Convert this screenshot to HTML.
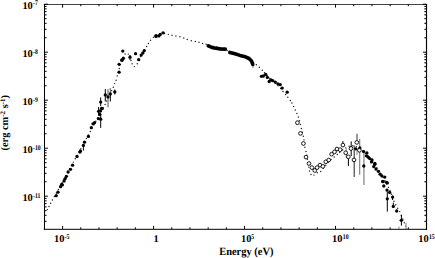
<!DOCTYPE html><html><head><meta charset="utf-8"><style>html,body{margin:0;padding:0;background:#fff;width:435px;height:258px;overflow:hidden}svg{display:block}text{font-family:"Liberation Serif",serif;font-weight:bold;fill:#000;text-rendering:geometricPrecision}</style></head><body>
<svg width="435" height="258" viewBox="0 0 435 258">
<path d="M44.60,213.00l0.01,0M47.40,209.60l0.01,0M49.00,206.40l0.01,0M50.60,203.30l0.01,0M52.40,200.00l0.01,0M54.40,196.47l0.01,0M56.40,192.93l0.01,0M58.40,189.40l0.01,0M60.27,185.99l0.01,0M62.15,182.57l0.01,0M64.03,179.16l0.01,0M65.90,175.75l0.01,0M67.78,172.34l0.01,0M69.65,168.93l0.01,0M71.53,165.51l0.01,0M73.40,162.10l0.01,0M75.26,158.73l0.01,0M77.11,155.36l0.01,0M78.97,151.99l0.01,0M80.83,148.61l0.01,0M82.69,145.24l0.01,0M84.54,141.87l0.01,0M86.40,138.50l0.01,0M88.35,134.95l0.01,0M90.30,131.40l0.01,0M92.15,128.03l0.01,0M94.00,124.65l0.01,0M95.85,121.28l0.01,0M97.70,117.90l0.01,0M99.55,114.53l0.01,0M101.40,111.15l0.01,0M103.25,107.78l0.01,0M105.10,104.40l0.01,0M106.74,100.96l0.01,0M108.38,97.52l0.01,0M110.02,94.08l0.01,0M111.66,90.64l0.01,0M113.30,87.20l0.01,0M114.60,83.60l0.01,0M116.10,80.20l0.01,0M117.20,75.90l0.01,0M118.25,72.15l0.01,0M119.30,68.40l0.01,0M120.42,64.63l0.01,0M121.55,60.87l0.01,0M123.01,57.21l0.01,0M125.10,53.90l0.01,0M128.30,54.10l0.01,0M129.73,57.24l0.01,0M130.97,60.44l0.01,0M132.10,63.70l0.01,0M134.40,66.60l0.01,0M137.30,63.70l0.01,0M138.94,60.13l0.01,0M140.56,56.56l0.01,0M142.31,53.05l0.01,0M144.26,49.65l0.01,0M146.60,46.50l0.01,0M148.40,43.40l0.01,0M150.50,40.30l0.01,0M153.50,37.30l0.01,0M157.00,35.50l0.01,0M160.68,34.12l0.01,0M164.53,33.41l0.01,0M168.35,34.35l0.01,0M172.05,35.20l0.01,0M175.90,36.00l0.01,0M179.95,36.80l0.01,0M183.80,37.90l0.01,0M187.20,39.50l0.01,0M191.30,40.70l0.01,0M195.30,41.50l0.01,0M199.00,42.30l0.01,0M202.60,43.40l0.01,0M206.13,44.31l0.01,0M209.67,45.21l0.01,0M213.20,46.10l0.01,0M216.74,46.99l0.01,0M220.27,47.90l0.01,0M223.69,49.17l0.01,0M227.12,50.43l0.01,0M230.54,51.69l0.01,0M233.98,52.89l0.01,0M237.43,54.10l0.01,0M240.85,55.36l0.01,0M244.20,56.80l0.01,0M247.49,58.34l0.01,0M250.48,60.44l0.01,0M253.45,62.55l0.01,0M256.40,64.70l0.01,0M259.30,67.20l0.01,0M262.20,70.20l0.01,0M264.50,72.80l0.01,0M267.08,75.53l0.01,0M269.71,78.21l0.01,0M272.39,80.84l0.01,0M275.22,83.32l0.01,0M278.05,85.79l0.01,0M280.71,88.42l0.01,0M283.00,91.40l0.01,0M285.60,94.40l0.01,0M287.80,97.20l0.01,0M290.30,100.50l0.01,0M291.90,103.00l0.01,0M293.60,106.40l0.01,0M295.30,109.90l0.01,0M296.90,113.40l0.01,0M298.40,116.90l0.01,0M299.40,120.70l0.01,0M300.40,124.50l0.01,0M301.40,128.40l0.01,0M302.35,132.30l0.01,0M303.30,136.20l0.01,0M303.99,139.88l0.01,0M304.52,143.58l0.01,0M304.90,147.30l0.01,0M306.00,151.40l0.01,0M306.73,155.32l0.01,0M307.38,159.25l0.01,0M307.98,163.18l0.01,0M308.64,167.11l0.01,0M309.50,171.00l0.01,0M311.00,174.50l0.01,0M314.00,175.10l0.01,0M317.20,172.80l0.01,0M320.70,171.40l0.01,0M323.26,168.37l0.01,0M325.76,165.30l0.01,0M328.27,162.23l0.01,0M331.08,159.44l0.01,0M334.20,157.00l0.01,0M337.30,154.50l0.01,0M339.80,152.40l0.01,0M342.72,150.04l0.01,0M345.78,147.89l0.01,0M349.10,146.23l0.01,0M352.74,145.68l0.01,0M356.33,146.71l0.01,0M359.51,148.69l0.01,0M362.54,150.90l0.01,0M365.36,153.36l0.01,0M368.01,156.01l0.01,0M370.35,158.94l0.01,0M372.66,161.90l0.01,0M374.86,164.94l0.01,0M377.01,168.01l0.01,0M379.09,171.13l0.01,0M381.11,174.30l0.01,0M383.07,177.49l0.01,0M384.93,180.75l0.01,0M386.70,184.06l0.01,0M388.41,187.39l0.01,0M389.98,190.80l0.01,0M391.45,194.24l0.01,0M392.72,197.77l0.01,0M394.00,201.30l0.01,0M395.84,204.76l0.01,0M397.75,208.19l0.01,0M399.70,211.60l0.01,0M401.27,215.28l0.01,0M402.80,218.99l0.01,0M404.30,222.70l0.01,0M405.75,226.05l0.01,0" fill="none" stroke="#222" stroke-width="1.45" stroke-linecap="round"/>
<line x1="83.4" y1="146.0" x2="83.4" y2="150.5" stroke="#000" stroke-width="1.0"/>
<line x1="98.6" y1="107.0" x2="98.6" y2="115.7" stroke="#000" stroke-width="1.0"/>
<line x1="100.7" y1="114.0" x2="100.7" y2="127.9" stroke="#000" stroke-width="1.0"/>
<line x1="100.7" y1="97.4" x2="100.7" y2="106.2" stroke="#000" stroke-width="1.0"/>
<line x1="105.3" y1="89.0" x2="105.3" y2="101.5" stroke="#000" stroke-width="1.0"/>
<line x1="108.0" y1="89.3" x2="108.0" y2="107.3" stroke="#777" stroke-width="1.3"/>
<line x1="110.3" y1="88.1" x2="110.3" y2="94.0" stroke="#666" stroke-width="1.1"/>
<line x1="110.3" y1="94.0" x2="110.3" y2="101.5" stroke="#000" stroke-width="1.0"/>
<line x1="114.8" y1="89.5" x2="114.8" y2="94.5" stroke="#000" stroke-width="1.0"/>
<line x1="130.0" y1="55.0" x2="130.0" y2="60.0" stroke="#000" stroke-width="1.0"/>
<line x1="253.0" y1="64.0" x2="253.0" y2="68.0" stroke="#999" stroke-width="1.2"/>
<line x1="342.9" y1="141.1" x2="342.9" y2="147.0" stroke="#000" stroke-width="1.0"/>
<line x1="346.3" y1="148.0" x2="346.3" y2="158.0" stroke="#aaa" stroke-width="1.3"/>
<line x1="348.4" y1="158.0" x2="348.4" y2="166.0" stroke="#000" stroke-width="1.0"/>
<line x1="351.2" y1="141.4" x2="351.2" y2="156.1" stroke="#000" stroke-width="1.0"/>
<line x1="354.2" y1="145.6" x2="354.2" y2="177.1" stroke="#333" stroke-width="1.1"/>
<line x1="357.0" y1="133.8" x2="357.0" y2="141.0" stroke="#888" stroke-width="1.7"/>
<line x1="357.0" y1="148.0" x2="357.0" y2="155.0" stroke="#aaa" stroke-width="1.4"/>
<line x1="359.7" y1="139.0" x2="359.7" y2="174.8" stroke="#777" stroke-width="1.1"/>
<line x1="363.9" y1="150.0" x2="363.9" y2="185.0" stroke="#aaa" stroke-width="1.8"/>
<line x1="387.3" y1="191.3" x2="387.3" y2="211.6" stroke="#000" stroke-width="1.0"/>
<line x1="392.6" y1="195.5" x2="392.6" y2="200.0" stroke="#000" stroke-width="1.0"/>
<line x1="393.3" y1="202.6" x2="393.3" y2="208.0" stroke="#000" stroke-width="1.0"/>
<line x1="401.4" y1="215.1" x2="401.4" y2="225.6" stroke="#000" stroke-width="1.0"/>
<line x1="406.0" y1="222.7" x2="406.0" y2="229.3" stroke="#aaa" stroke-width="1.5"/>
<line x1="399.0" y1="226.5" x2="399.0" y2="229.3" stroke="#aaa" stroke-width="1.3"/>
<line x1="399.6" y1="220.3" x2="403.2" y2="220.3" stroke="#000" stroke-width="1"/>
<circle cx="56.2" cy="195.7" r="1.65" fill="#000"/>
<circle cx="58.0" cy="192.2" r="1.65" fill="#000"/>
<circle cx="60.6" cy="186.7" r="1.65" fill="#000"/>
<circle cx="61.7" cy="184.4" r="1.65" fill="#000"/>
<circle cx="62.3" cy="184.9" r="1.65" fill="#000"/>
<circle cx="64.1" cy="181.0" r="1.65" fill="#000"/>
<circle cx="65.2" cy="178.6" r="1.65" fill="#000"/>
<circle cx="66.4" cy="176.3" r="1.65" fill="#000"/>
<circle cx="68.1" cy="172.0" r="1.65" fill="#000"/>
<circle cx="70.5" cy="169.3" r="1.65" fill="#000"/>
<circle cx="72.6" cy="165.2" r="1.65" fill="#000"/>
<circle cx="77.0" cy="156.5" r="1.65" fill="#000"/>
<circle cx="79.9" cy="152.1" r="1.65" fill="#000"/>
<circle cx="80.5" cy="150.9" r="1.65" fill="#000"/>
<circle cx="83.4" cy="145.4" r="1.65" fill="#000"/>
<circle cx="84.5" cy="142.2" r="1.65" fill="#000"/>
<circle cx="88.4" cy="136.4" r="1.65" fill="#000"/>
<circle cx="91.3" cy="127.7" r="1.65" fill="#000"/>
<circle cx="93.0" cy="123.8" r="1.65" fill="#000"/>
<circle cx="94.5" cy="122.7" r="1.65" fill="#000"/>
<circle cx="98.4" cy="118.6" r="1.65" fill="#000"/>
<circle cx="100.7" cy="119.2" r="1.65" fill="#000"/>
<circle cx="99.8" cy="114.5" r="1.65" fill="#000"/>
<circle cx="98.6" cy="111.3" r="1.65" fill="#000"/>
<circle cx="100.3" cy="111.0" r="1.65" fill="#000"/>
<circle cx="102.1" cy="108.7" r="1.65" fill="#000"/>
<circle cx="101.6" cy="108.3" r="1.65" fill="#000"/>
<circle cx="100.7" cy="102.1" r="1.65" fill="#000"/>
<circle cx="105.3" cy="94.9" r="1.65" fill="#000"/>
<circle cx="108.0" cy="96.9" r="1.65" fill="#000"/>
<circle cx="110.3" cy="94.0" r="1.65" fill="#000"/>
<circle cx="114.8" cy="91.9" r="1.65" fill="#000"/>
<circle cx="119.1" cy="72.2" r="1.65" fill="#000"/>
<circle cx="119.1" cy="64.3" r="1.65" fill="#000"/>
<circle cx="121.9" cy="60.2" r="1.65" fill="#000"/>
<circle cx="122.0" cy="60.0" r="1.65" fill="#000"/>
<circle cx="123.4" cy="58.3" r="1.65" fill="#000"/>
<circle cx="122.8" cy="51.1" r="1.65" fill="#000"/>
<circle cx="130.0" cy="57.2" r="1.65" fill="#000"/>
<circle cx="135.6" cy="53.7" r="1.65" fill="#000"/>
<circle cx="138.7" cy="59.7" r="1.65" fill="#000"/>
<circle cx="141.2" cy="55.1" r="1.65" fill="#000"/>
<circle cx="142.9" cy="53.0" r="1.65" fill="#000"/>
<circle cx="144.3" cy="50.6" r="1.65" fill="#000"/>
<circle cx="156.0" cy="36.4" r="1.65" fill="#000"/>
<circle cx="156.0" cy="35.6" r="1.65" fill="#000"/>
<circle cx="158.9" cy="35.9" r="1.65" fill="#000"/>
<circle cx="160.2" cy="34.4" r="1.65" fill="#000"/>
<circle cx="163.1" cy="32.8" r="1.65" fill="#000"/>
<circle cx="261.4" cy="76.3" r="1.65" fill="#000"/>
<circle cx="263.4" cy="76.0" r="1.65" fill="#000"/>
<circle cx="265.7" cy="74.5" r="1.65" fill="#000"/>
<circle cx="267.4" cy="77.4" r="1.65" fill="#000"/>
<circle cx="269.2" cy="81.5" r="1.65" fill="#000"/>
<circle cx="270.9" cy="79.8" r="1.65" fill="#000"/>
<circle cx="272.7" cy="80.7" r="1.65" fill="#000"/>
<circle cx="275.3" cy="82.1" r="1.65" fill="#000"/>
<circle cx="277.9" cy="83.8" r="1.65" fill="#000"/>
<circle cx="280.2" cy="84.7" r="1.65" fill="#000"/>
<circle cx="282.2" cy="88.1" r="1.65" fill="#000"/>
<circle cx="287.2" cy="92.2" r="1.65" fill="#000"/>
<circle cx="355.7" cy="148.8" r="1.65" fill="#000"/>
<circle cx="359.9" cy="147.9" r="1.65" fill="#000"/>
<circle cx="363.6" cy="151.6" r="1.65" fill="#000"/>
<circle cx="366.9" cy="153.0" r="1.65" fill="#000"/>
<circle cx="366.4" cy="155.8" r="1.65" fill="#000"/>
<circle cx="368.3" cy="157.2" r="1.65" fill="#000"/>
<circle cx="369.7" cy="158.6" r="1.65" fill="#000"/>
<circle cx="372.0" cy="160.0" r="1.65" fill="#000"/>
<circle cx="371.5" cy="161.9" r="1.65" fill="#000"/>
<circle cx="374.8" cy="163.3" r="1.65" fill="#000"/>
<circle cx="374.9" cy="164.3" r="1.65" fill="#000"/>
<circle cx="373.7" cy="166.6" r="1.65" fill="#000"/>
<circle cx="376.0" cy="169.0" r="1.65" fill="#000"/>
<circle cx="378.4" cy="171.3" r="1.65" fill="#000"/>
<circle cx="380.1" cy="174.2" r="1.65" fill="#000"/>
<circle cx="381.9" cy="175.9" r="1.65" fill="#000"/>
<circle cx="384.8" cy="177.1" r="1.65" fill="#000"/>
<circle cx="383.0" cy="181.7" r="1.65" fill="#000"/>
<circle cx="386.5" cy="182.3" r="1.65" fill="#000"/>
<circle cx="363.8" cy="166.0" r="1.65" fill="#000"/>
<circle cx="382.7" cy="181.4" r="1.65" fill="#000"/>
<circle cx="387.3" cy="182.9" r="1.65" fill="#000"/>
<circle cx="383.8" cy="186.0" r="1.65" fill="#000"/>
<circle cx="387.0" cy="190.1" r="1.65" fill="#000"/>
<circle cx="389.7" cy="192.4" r="1.65" fill="#000"/>
<circle cx="392.6" cy="197.1" r="1.65" fill="#000"/>
<circle cx="387.3" cy="198.8" r="1.65" fill="#000"/>
<circle cx="393.3" cy="206.4" r="1.65" fill="#000"/>
<circle cx="396.7" cy="211.0" r="1.65" fill="#000"/>
<circle cx="401.4" cy="220.3" r="1.65" fill="#000"/>
<path d="M208.3,45.9 L213.0,47.8 L216.0,48.3 L220.0,48.9 L225.3,49.1" fill="none" stroke="#000" stroke-width="3.6" stroke-linecap="round" stroke-linejoin="round"/>
<path d="M229.8,52.4 L235.0,53.8 L240.0,55.4 L245.4,56.8 L249.0,58.5 L251.5,61.0 L252.8,64.3" fill="none" stroke="#000" stroke-width="3.6" stroke-linecap="round" stroke-linejoin="round"/>
<circle cx="297.4" cy="122.7" r="1.85" fill="#fff" stroke="#000" stroke-width="0.9"/>
<circle cx="300.5" cy="133.4" r="1.85" fill="#fff" stroke="#000" stroke-width="0.9"/>
<circle cx="303.4" cy="143.5" r="1.85" fill="#fff" stroke="#000" stroke-width="0.9"/>
<circle cx="306.0" cy="157.1" r="1.85" fill="#fff" stroke="#000" stroke-width="0.9"/>
<circle cx="309.0" cy="163.5" r="1.85" fill="#fff" stroke="#000" stroke-width="0.9"/>
<circle cx="311.9" cy="167.6" r="1.85" fill="#fff" stroke="#000" stroke-width="0.9"/>
<circle cx="314.8" cy="170.5" r="1.85" fill="#fff" stroke="#000" stroke-width="0.9"/>
<circle cx="317.1" cy="167.6" r="1.85" fill="#fff" stroke="#000" stroke-width="0.9"/>
<circle cx="320.0" cy="165.1" r="1.85" fill="#fff" stroke="#000" stroke-width="0.9"/>
<circle cx="322.9" cy="166.4" r="1.85" fill="#fff" stroke="#000" stroke-width="0.9"/>
<circle cx="325.8" cy="161.8" r="1.85" fill="#fff" stroke="#000" stroke-width="0.9"/>
<circle cx="328.7" cy="160.0" r="1.85" fill="#fff" stroke="#000" stroke-width="0.9"/>
<circle cx="331.6" cy="154.2" r="1.85" fill="#fff" stroke="#000" stroke-width="0.9"/>
<circle cx="334.5" cy="151.9" r="1.85" fill="#fff" stroke="#000" stroke-width="0.9"/>
<circle cx="337.0" cy="149.0" r="1.85" fill="#fff" stroke="#000" stroke-width="0.9"/>
<circle cx="340.1" cy="149.7" r="1.85" fill="#fff" stroke="#000" stroke-width="0.9"/>
<circle cx="342.9" cy="145.1" r="1.85" fill="#fff" stroke="#000" stroke-width="0.9"/>
<circle cx="345.7" cy="152.8" r="1.85" fill="#fff" stroke="#000" stroke-width="0.9"/>
<circle cx="351.0" cy="148.5" r="1.85" fill="#fff" stroke="#000" stroke-width="0.9"/>
<circle cx="348.3" cy="156.8" r="1.85" fill="#fff" stroke="#000" stroke-width="0.9"/>
<circle cx="354.0" cy="159.9" r="1.85" fill="#fff" stroke="#000" stroke-width="0.9"/>
<circle cx="356.8" cy="142.4" r="1.85" fill="#fff" stroke="#000" stroke-width="0.9"/>
<circle cx="359.4" cy="150.3" r="1.85" fill="#fff" stroke="#000" stroke-width="0.9"/>
<g stroke="#000" fill="none">
<line x1="43.90" y1="4.5" x2="427.00" y2="4.5" stroke="#444" stroke-width="1.15"/>
<line x1="43.90" y1="229.4" x2="427.00" y2="229.4" stroke="#333" stroke-width="1.15"/>
<line x1="44.5" y1="4" x2="44.5" y2="230" stroke-width="1.0"/>
<line x1="426.50" y1="4" x2="426.50" y2="230" stroke-width="1.15"/>
<line x1="44.40" y1="229.30" x2="44.40" y2="227.30" stroke-width="1"/>
<line x1="44.40" y1="4.20" x2="44.40" y2="6.20" stroke-width="1"/>
<line x1="62.60" y1="229.30" x2="62.60" y2="225.90" stroke-width="1"/>
<line x1="62.60" y1="4.20" x2="62.60" y2="7.60" stroke-width="1"/>
<line x1="80.79" y1="229.30" x2="80.79" y2="227.30" stroke-width="1"/>
<line x1="80.79" y1="4.20" x2="80.79" y2="6.20" stroke-width="1"/>
<line x1="98.99" y1="229.30" x2="98.99" y2="227.30" stroke-width="1"/>
<line x1="98.99" y1="4.20" x2="98.99" y2="6.20" stroke-width="1"/>
<line x1="117.18" y1="229.30" x2="117.18" y2="227.30" stroke-width="1"/>
<line x1="117.18" y1="4.20" x2="117.18" y2="6.20" stroke-width="1"/>
<line x1="135.38" y1="229.30" x2="135.38" y2="227.30" stroke-width="1"/>
<line x1="135.38" y1="4.20" x2="135.38" y2="6.20" stroke-width="1"/>
<line x1="153.57" y1="229.30" x2="153.57" y2="225.90" stroke-width="1"/>
<line x1="153.57" y1="4.20" x2="153.57" y2="7.60" stroke-width="1"/>
<line x1="171.77" y1="229.30" x2="171.77" y2="227.30" stroke-width="1"/>
<line x1="171.77" y1="4.20" x2="171.77" y2="6.20" stroke-width="1"/>
<line x1="189.96" y1="229.30" x2="189.96" y2="227.30" stroke-width="1"/>
<line x1="189.96" y1="4.20" x2="189.96" y2="6.20" stroke-width="1"/>
<line x1="208.16" y1="229.30" x2="208.16" y2="227.30" stroke-width="1"/>
<line x1="208.16" y1="4.20" x2="208.16" y2="6.20" stroke-width="1"/>
<line x1="226.35" y1="229.30" x2="226.35" y2="227.30" stroke-width="1"/>
<line x1="226.35" y1="4.20" x2="226.35" y2="6.20" stroke-width="1"/>
<line x1="244.55" y1="229.30" x2="244.55" y2="225.90" stroke-width="1"/>
<line x1="244.55" y1="4.20" x2="244.55" y2="7.60" stroke-width="1"/>
<line x1="262.74" y1="229.30" x2="262.74" y2="227.30" stroke-width="1"/>
<line x1="262.74" y1="4.20" x2="262.74" y2="6.20" stroke-width="1"/>
<line x1="280.94" y1="229.30" x2="280.94" y2="227.30" stroke-width="1"/>
<line x1="280.94" y1="4.20" x2="280.94" y2="6.20" stroke-width="1"/>
<line x1="299.13" y1="229.30" x2="299.13" y2="227.30" stroke-width="1"/>
<line x1="299.13" y1="4.20" x2="299.13" y2="6.20" stroke-width="1"/>
<line x1="317.33" y1="229.30" x2="317.33" y2="227.30" stroke-width="1"/>
<line x1="317.33" y1="4.20" x2="317.33" y2="6.20" stroke-width="1"/>
<line x1="335.52" y1="229.30" x2="335.52" y2="225.90" stroke-width="1"/>
<line x1="335.52" y1="4.20" x2="335.52" y2="7.60" stroke-width="1"/>
<line x1="353.72" y1="229.30" x2="353.72" y2="227.30" stroke-width="1"/>
<line x1="353.72" y1="4.20" x2="353.72" y2="6.20" stroke-width="1"/>
<line x1="371.91" y1="229.30" x2="371.91" y2="227.30" stroke-width="1"/>
<line x1="371.91" y1="4.20" x2="371.91" y2="6.20" stroke-width="1"/>
<line x1="390.11" y1="229.30" x2="390.11" y2="227.30" stroke-width="1"/>
<line x1="390.11" y1="4.20" x2="390.11" y2="6.20" stroke-width="1"/>
<line x1="408.30" y1="229.30" x2="408.30" y2="227.30" stroke-width="1"/>
<line x1="408.30" y1="4.20" x2="408.30" y2="6.20" stroke-width="1"/>
<line x1="426.50" y1="229.30" x2="426.50" y2="225.90" stroke-width="1"/>
<line x1="426.50" y1="4.20" x2="426.50" y2="7.60" stroke-width="1"/>
<line x1="44.40" y1="221.30" x2="46.60" y2="221.30" stroke-width="1"/>
<line x1="426.50" y1="221.30" x2="424.30" y2="221.30" stroke-width="1"/>
<line x1="44.40" y1="215.30" x2="46.60" y2="215.30" stroke-width="1"/>
<line x1="426.50" y1="215.30" x2="424.30" y2="215.30" stroke-width="1"/>
<line x1="44.40" y1="210.65" x2="46.60" y2="210.65" stroke-width="1"/>
<line x1="426.50" y1="210.65" x2="424.30" y2="210.65" stroke-width="1"/>
<line x1="44.40" y1="206.85" x2="46.60" y2="206.85" stroke-width="1"/>
<line x1="426.50" y1="206.85" x2="424.30" y2="206.85" stroke-width="1"/>
<line x1="44.40" y1="203.64" x2="46.60" y2="203.64" stroke-width="1"/>
<line x1="426.50" y1="203.64" x2="424.30" y2="203.64" stroke-width="1"/>
<line x1="44.40" y1="200.85" x2="46.60" y2="200.85" stroke-width="1"/>
<line x1="426.50" y1="200.85" x2="424.30" y2="200.85" stroke-width="1"/>
<line x1="44.40" y1="198.40" x2="46.60" y2="198.40" stroke-width="1"/>
<line x1="426.50" y1="198.40" x2="424.30" y2="198.40" stroke-width="1"/>
<line x1="44.40" y1="196.20" x2="47.90" y2="196.20" stroke-width="1"/>
<line x1="426.50" y1="196.20" x2="423.00" y2="196.20" stroke-width="1"/>
<line x1="44.40" y1="181.75" x2="46.60" y2="181.75" stroke-width="1"/>
<line x1="426.50" y1="181.75" x2="424.30" y2="181.75" stroke-width="1"/>
<line x1="44.40" y1="173.30" x2="46.60" y2="173.30" stroke-width="1"/>
<line x1="426.50" y1="173.30" x2="424.30" y2="173.30" stroke-width="1"/>
<line x1="44.40" y1="167.30" x2="46.60" y2="167.30" stroke-width="1"/>
<line x1="426.50" y1="167.30" x2="424.30" y2="167.30" stroke-width="1"/>
<line x1="44.40" y1="162.65" x2="46.60" y2="162.65" stroke-width="1"/>
<line x1="426.50" y1="162.65" x2="424.30" y2="162.65" stroke-width="1"/>
<line x1="44.40" y1="158.85" x2="46.60" y2="158.85" stroke-width="1"/>
<line x1="426.50" y1="158.85" x2="424.30" y2="158.85" stroke-width="1"/>
<line x1="44.40" y1="155.64" x2="46.60" y2="155.64" stroke-width="1"/>
<line x1="426.50" y1="155.64" x2="424.30" y2="155.64" stroke-width="1"/>
<line x1="44.40" y1="152.85" x2="46.60" y2="152.85" stroke-width="1"/>
<line x1="426.50" y1="152.85" x2="424.30" y2="152.85" stroke-width="1"/>
<line x1="44.40" y1="150.40" x2="46.60" y2="150.40" stroke-width="1"/>
<line x1="426.50" y1="150.40" x2="424.30" y2="150.40" stroke-width="1"/>
<line x1="44.40" y1="148.20" x2="47.90" y2="148.20" stroke-width="1"/>
<line x1="426.50" y1="148.20" x2="423.00" y2="148.20" stroke-width="1"/>
<line x1="44.40" y1="133.75" x2="46.60" y2="133.75" stroke-width="1"/>
<line x1="426.50" y1="133.75" x2="424.30" y2="133.75" stroke-width="1"/>
<line x1="44.40" y1="125.30" x2="46.60" y2="125.30" stroke-width="1"/>
<line x1="426.50" y1="125.30" x2="424.30" y2="125.30" stroke-width="1"/>
<line x1="44.40" y1="119.30" x2="46.60" y2="119.30" stroke-width="1"/>
<line x1="426.50" y1="119.30" x2="424.30" y2="119.30" stroke-width="1"/>
<line x1="44.40" y1="114.65" x2="46.60" y2="114.65" stroke-width="1"/>
<line x1="426.50" y1="114.65" x2="424.30" y2="114.65" stroke-width="1"/>
<line x1="44.40" y1="110.85" x2="46.60" y2="110.85" stroke-width="1"/>
<line x1="426.50" y1="110.85" x2="424.30" y2="110.85" stroke-width="1"/>
<line x1="44.40" y1="107.64" x2="46.60" y2="107.64" stroke-width="1"/>
<line x1="426.50" y1="107.64" x2="424.30" y2="107.64" stroke-width="1"/>
<line x1="44.40" y1="104.85" x2="46.60" y2="104.85" stroke-width="1"/>
<line x1="426.50" y1="104.85" x2="424.30" y2="104.85" stroke-width="1"/>
<line x1="44.40" y1="102.40" x2="46.60" y2="102.40" stroke-width="1"/>
<line x1="426.50" y1="102.40" x2="424.30" y2="102.40" stroke-width="1"/>
<line x1="44.40" y1="100.20" x2="47.90" y2="100.20" stroke-width="1"/>
<line x1="426.50" y1="100.20" x2="423.00" y2="100.20" stroke-width="1"/>
<line x1="44.40" y1="85.75" x2="46.60" y2="85.75" stroke-width="1"/>
<line x1="426.50" y1="85.75" x2="424.30" y2="85.75" stroke-width="1"/>
<line x1="44.40" y1="77.30" x2="46.60" y2="77.30" stroke-width="1"/>
<line x1="426.50" y1="77.30" x2="424.30" y2="77.30" stroke-width="1"/>
<line x1="44.40" y1="71.30" x2="46.60" y2="71.30" stroke-width="1"/>
<line x1="426.50" y1="71.30" x2="424.30" y2="71.30" stroke-width="1"/>
<line x1="44.40" y1="66.65" x2="46.60" y2="66.65" stroke-width="1"/>
<line x1="426.50" y1="66.65" x2="424.30" y2="66.65" stroke-width="1"/>
<line x1="44.40" y1="62.85" x2="46.60" y2="62.85" stroke-width="1"/>
<line x1="426.50" y1="62.85" x2="424.30" y2="62.85" stroke-width="1"/>
<line x1="44.40" y1="59.64" x2="46.60" y2="59.64" stroke-width="1"/>
<line x1="426.50" y1="59.64" x2="424.30" y2="59.64" stroke-width="1"/>
<line x1="44.40" y1="56.85" x2="46.60" y2="56.85" stroke-width="1"/>
<line x1="426.50" y1="56.85" x2="424.30" y2="56.85" stroke-width="1"/>
<line x1="44.40" y1="54.40" x2="46.60" y2="54.40" stroke-width="1"/>
<line x1="426.50" y1="54.40" x2="424.30" y2="54.40" stroke-width="1"/>
<line x1="44.40" y1="52.20" x2="47.90" y2="52.20" stroke-width="1"/>
<line x1="426.50" y1="52.20" x2="423.00" y2="52.20" stroke-width="1"/>
<line x1="44.40" y1="37.75" x2="46.60" y2="37.75" stroke-width="1"/>
<line x1="426.50" y1="37.75" x2="424.30" y2="37.75" stroke-width="1"/>
<line x1="44.40" y1="29.30" x2="46.60" y2="29.30" stroke-width="1"/>
<line x1="426.50" y1="29.30" x2="424.30" y2="29.30" stroke-width="1"/>
<line x1="44.40" y1="23.30" x2="46.60" y2="23.30" stroke-width="1"/>
<line x1="426.50" y1="23.30" x2="424.30" y2="23.30" stroke-width="1"/>
<line x1="44.40" y1="18.65" x2="46.60" y2="18.65" stroke-width="1"/>
<line x1="426.50" y1="18.65" x2="424.30" y2="18.65" stroke-width="1"/>
<line x1="44.40" y1="14.85" x2="46.60" y2="14.85" stroke-width="1"/>
<line x1="426.50" y1="14.85" x2="424.30" y2="14.85" stroke-width="1"/>
<line x1="44.40" y1="11.64" x2="46.60" y2="11.64" stroke-width="1"/>
<line x1="426.50" y1="11.64" x2="424.30" y2="11.64" stroke-width="1"/>
<line x1="44.40" y1="8.85" x2="46.60" y2="8.85" stroke-width="1"/>
<line x1="426.50" y1="8.85" x2="424.30" y2="8.85" stroke-width="1"/>
<line x1="44.40" y1="6.40" x2="46.60" y2="6.40" stroke-width="1"/>
<line x1="426.50" y1="6.40" x2="424.30" y2="6.40" stroke-width="1"/>
<line x1="44.40" y1="4.20" x2="47.90" y2="4.20" stroke-width="1"/>
<line x1="426.50" y1="4.20" x2="423.00" y2="4.20" stroke-width="1"/>
</g>
<text x="22.4" y="8.5" font-size="10.4">10</text><text transform="translate(33.00,4.70) scale(0.8,1)" font-size="7.2">-7</text>
<text x="22.4" y="56.7" font-size="10.4">10</text><text transform="translate(33.00,54.10) scale(0.8,1)" font-size="7.2">-8</text>
<text x="22.4" y="104.7" font-size="10.4">10</text><text transform="translate(33.00,102.10) scale(0.8,1)" font-size="7.2">-9</text>
<text x="22.4" y="152.7" font-size="10.4">10</text><text transform="translate(33.00,150.10) scale(0.8,1)" font-size="7.2">-10</text>
<text x="22.4" y="200.7" font-size="10.4">10</text><text transform="translate(33.00,198.10) scale(0.8,1)" font-size="7.2">-11</text>
<text x="54.0" y="242.2" font-size="10.4">10</text><text transform="translate(64.60,238.90) scale(0.8,1)" font-size="7.2">-5</text>
<text x="153.6" y="242.2" font-size="10.4">1</text>
<text x="241.0" y="242.2" font-size="10.4">10</text><text transform="translate(251.20,238.90) scale(0.8,1)" font-size="7.2">5</text>
<text x="332.1" y="242.2" font-size="10.4">10</text><text transform="translate(342.80,238.90) scale(0.8,1)" font-size="7.2">10</text>
<text x="418.3" y="242.2" font-size="10.4">10</text><text transform="translate(428.90,238.90) scale(0.8,1)" font-size="7.2">15</text>
<text transform="translate(219.2,254.8) scale(1.005,1.07)" font-size="10.4">Energy (eV)</text>
<text transform="translate(8.2,150.5) rotate(-90)" font-size="10.4">(erg cm<tspan font-size="7.0" dy="-3.5">-2</tspan><tspan dy="3.5"> s</tspan><tspan font-size="7.0" dy="-3.5">-1</tspan><tspan dy="3.5">)</tspan></text>
</svg></body></html>
